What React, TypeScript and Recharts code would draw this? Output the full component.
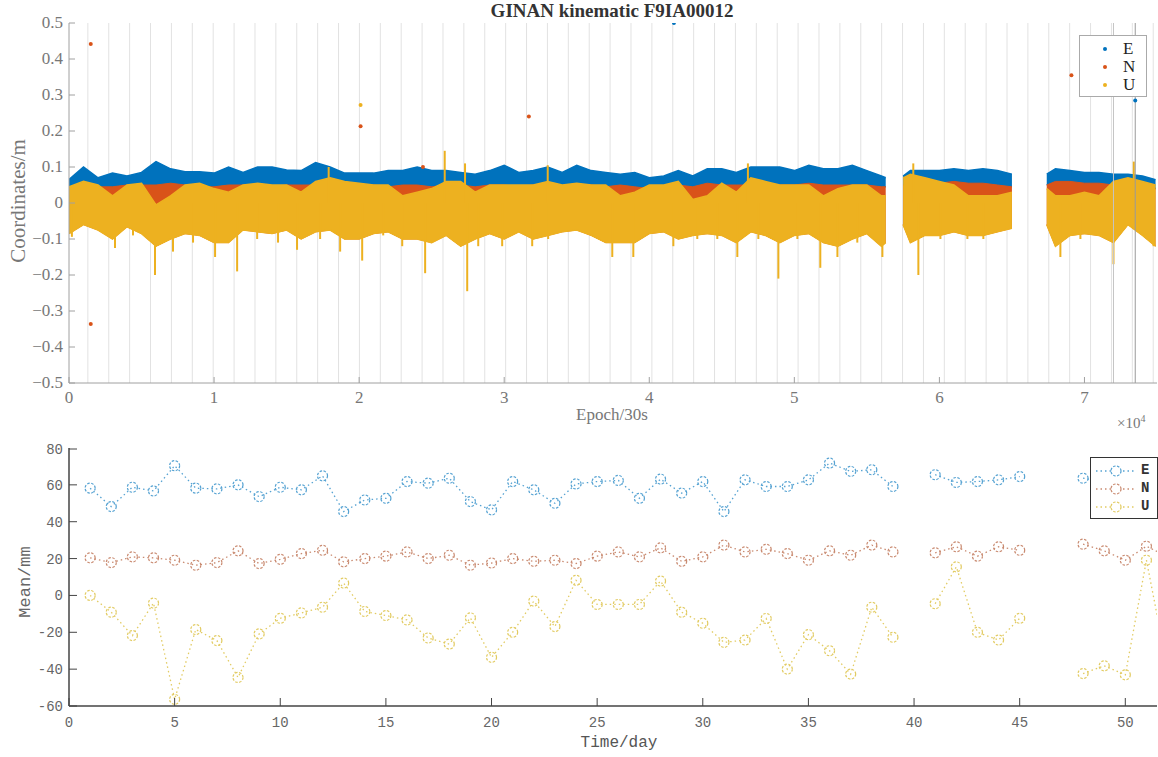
import React from 'react';
import {
  ComposedChart,
  LineChart,
  Line,
  Area,
  Scatter,
  XAxis,
  YAxis,
  CartesianGrid,
  ReferenceLine,
} from 'recharts';

const SERIF = '"Liberation Serif", "Times New Roman", serif';
const MONO = '"Liberation Mono", "DejaVu Sans Mono", monospace';

const C_E = '#0072BD';
const C_N = '#D95319';
const C_U = '#EDB120';

// ---- top panel: kinematic coordinates, read per ~1000 epoch bin (null = data gap)
const epochs = [
  0, 1000, 2000, 3000, 4000, 5000, 6000, 7000, 8000, 9000,
  10000, 11000, 12000, 13000, 14000, 15000, 16000, 17000, 18000, 19000,
  20000, 21000, 22000, 23000, 24000, 25000, 26000, 27000, 28000, 29000,
  30000, 31000, 32000, 33000, 34000, 35000, 36000, 37000, 38000, 39000,
  40000, 41000, 42000, 43000, 44000, 45000, 46000, 47000, 48000, 49000,
  50000, 51000, 52000, 53000, 54000, 55000, 56000, 56300, 57000, 57500,
  58000, 59000, 60000, 61000, 62000, 63000, 64000, 65000, 66000, 67400,
  68000, 69000, 70000, 71000, 72000, 73000, 74000, 74900,
];
const eTop = [
  0.065, 0.1, 0.07, 0.083, 0.075, 0.085, 0.115, 0.095, 0.087, 0.087,
  0.083, 0.1, 0.085, 0.1, 0.1, 0.092, 0.09, 0.112, 0.1, 0.083,
  0.083, 0.083, 0.09, 0.09, 0.1, 0.09, 0.09, 0.085, 0.08, 0.09,
  0.105, 0.085, 0.09, 0.1, 0.085, 0.105, 0.09, 0.085, 0.08, 0.085,
  0.07, 0.075, 0.09, 0.075, 0.095, 0.095, 0.085, 0.1, 0.1, 0.1,
  0.09, 0.105, 0.095, 0.095, 0.105, 0.09, 0.075, 0.07, null, 0.075,
  0.09, 0.09, 0.09, 0.095, 0.09, 0.095, 0.09, 0.08, null, 0.08,
  0.095, 0.09, 0.085, 0.085, 0.08, 0.08, 0.075, 0.065,
];
const nTop = [
  0.04, 0.05, 0.045, 0.045, 0.05, 0.05, 0.05, 0.055, 0.05, 0.045,
  0.045, 0.05, 0.05, 0.05, 0.045, 0.05, 0.05, 0.05, 0.055, 0.045,
  0.05, 0.05, 0.045, 0.05, 0.05, 0.045, 0.05, 0.05, 0.045, 0.05,
  0.05, 0.045, 0.05, 0.05, 0.045, 0.05, 0.05, 0.045, 0.05, 0.045,
  0.04, 0.045, 0.05, 0.045, 0.055, 0.05, 0.05, 0.05, 0.05, 0.05,
  0.05, 0.055, 0.05, 0.05, 0.05, 0.05, 0.045, 0.045, null, 0.05,
  0.05, 0.05, 0.055, 0.06, 0.055, 0.055, 0.05, 0.045, null, 0.05,
  0.06, 0.06, 0.055, 0.055, 0.05, 0.05, 0.045, 0.04,
];
const uTop = [
  0.045, 0.06, 0.05, 0.02, 0.05, 0.055, -0.005, 0.02, 0.05, 0.055,
  0.04, 0.03, 0.05, 0.055, 0.05, 0.05, 0.03, 0.06, 0.07, 0.06,
  0.055, 0.05, 0.05, 0.02, 0.03, 0.04, 0.06, 0.06, 0.03, 0.05,
  0.05, 0.05, 0.05, 0.06, 0.05, 0.055, 0.05, 0.05, 0.02, 0.03,
  0.05, 0.05, 0.06, 0.01, 0.02, 0.055, 0.03, 0.07, 0.06, 0.05,
  0.05, 0.05, 0.02, 0.04, 0.05, 0.05, 0.02, 0.02, null, 0.07,
  0.08, 0.07, 0.06, 0.05, 0.02, 0.02, 0.02, 0.03, null, 0.04,
  0.02, 0.02, 0.03, 0.02, 0.06, 0.07, 0.06, 0.05,
];
const uBottom = [
  -0.085, -0.06, -0.075, -0.1, -0.066, -0.085, -0.12, -0.1, -0.085, -0.09,
  -0.11, -0.11, -0.075, -0.08, -0.085, -0.075, -0.1, -0.08, -0.075, -0.1,
  -0.1, -0.085, -0.08, -0.1, -0.1, -0.11, -0.09, -0.12, -0.1, -0.085,
  -0.1, -0.08, -0.1, -0.09, -0.08, -0.075, -0.09, -0.11, -0.11, -0.11,
  -0.085, -0.08, -0.1, -0.09, -0.085, -0.09, -0.11, -0.08, -0.09, -0.11,
  -0.09, -0.085, -0.11, -0.12, -0.1, -0.085, -0.12, -0.11, null, -0.06,
  -0.11, -0.09, -0.09, -0.08, -0.09, -0.09, -0.08, -0.07, null, -0.06,
  -0.12, -0.09, -0.085, -0.09, -0.11, -0.06, -0.09, -0.12,
];

// narrow U streaks reaching beyond the band (low, high)
const spikeEpochs = [
  200, 3170, 4410, 5930, 7170, 8550, 10070, 11590, 12970, 14410, 15720, 17310, 17900, 18690, 20210, 21660,
  22970, 24550, 25900, 27300, 27450, 28210, 29860, 31930, 33000, 33030, 37450, 38900, 41660, 43310, 44690,
  46070, 46800, 47520, 48900, 50210, 51790, 52970, 54340, 56070, 58200, 58550, 60070, 61930, 63030, 68340,
  69720, 72000, 73400, 74760,
];
const spikeLow = [
  -0.094, -0.125, -0.09, -0.2, -0.135, -0.11, -0.15, -0.19, -0.1, -0.11, -0.13, -0.1, 0, -0.135, -0.16, -0.09,
  -0.12, -0.195, 0, 0, -0.245, -0.12, -0.12, -0.12, 0, -0.1, -0.15, -0.15, -0.12, -0.1, -0.1,
  -0.15, 0, -0.1, -0.21, -0.1, -0.18, -0.15, -0.11, -0.15, 0, -0.2, -0.1, -0.1, -0.1, -0.15,
  -0.1, -0.17, 0, -0.12,
];
const spikeHigh = [
  0, 0, 0, 0, 0, 0, 0, 0, 0, 0, 0, 0, 0.1, 0, 0, 0,
  0, 0, 0.145, 0.11, 0, 0, 0, 0, 0.105, 0, 0, 0, 0, 0, 0,
  0, 0.11, 0, 0, 0, 0, 0, 0, 0, 0.11, 0, 0, 0, 0, 0,
  0, 0, 0.115, 0,
];

// isolated outliers
const outEEpochs = [41700, 73500];
const outEValues = [0.5, 0.285];
const outNEpochs = [1500, 1500, 20100, 24400, 31700, 69100];
const outNValues = [0.442, -0.336, 0.213, 0.1, 0.24, 0.355];
const outUEpochs = [20100];
const outUValues = [0.272];

const topXTicks = [0, 10000, 20000, 30000, 40000, 50000, 60000, 70000];
const topYTicks = [-0.5, -0.4, -0.3, -0.2, -0.1, 0, 0.1, 0.2, 0.3, 0.4, 0.5];
const gridEpochs = Array.from({ length: 52 }, (_, i) => 1300 + i * 1440);

// ---- bottom panel: daily means (mm)
const days = [
  1, 2, 3, 4, 5, 6, 7, 8, 9, 10, 11, 12, 13, 14, 15, 16, 17, 18, 19, 20, 21, 22, 23, 24, 25, 26,
  27, 28, 29, 30, 31, 32, 33, 34, 35, 36, 37, 38, 39, 40, 41, 42, 43, 44, 45, 46, 47, 48, 49, 50, 51, 52,
];
const meanE = [
  58.2, 48.2, 58.7, 56.7, 70.4, 58.2, 57.8, 60, 53.6, 58.7, 57.3, 64.9, 45.5, 51.8, 52.7, 61.8, 60.9, 63.6, 50.9, 46.4,
  61.8, 57.3, 50, 60.5, 61.8, 62.4, 52.7, 63.1, 55.5, 61.8, 45.5, 62.7, 59.1, 59.1, 62.7, 71.8, 67.3, 68.2, 59.1, null,
  65.5, 61.3, 61.8, 62.7, 64.5, null, null, 63.6, 62, 63, 61, 62,
];
const meanN = [
  20.4, 17.8, 20.9, 20.4, 19.1, 16.4, 17.8, 24.2, 17.3, 19.6, 22.7, 24.5, 18.2, 20, 21.3, 23.6, 20, 21.8, 16.4, 17.6,
  20, 18.5, 19.1, 17.3, 21.3, 23.6, 20.9, 25.8, 18.5, 20.9, 27.3, 23.6, 25, 22.7, 19.1, 24.2, 21.8, 27.3, 23.6, null,
  23.1, 26.4, 21.3, 26.4, 24.5, null, null, 27.8, 24.2, 19.1, 26.7, 21,
];
const meanU = [
  0, -9.1, -21.8, -4.2, -56.4, -18.5, -24.5, -44.5, -20.9, -12.4, -9.5, -6.4, 6.7, -8.7, -10.9, -13.3, -23.1, -26.4, -12.2, -33.6,
  -20, -3.1, -16.9, 8.2, -4.9, -4.9, -4.9, 7.8, -9.1, -15.1, -25.5, -24.2, -12.5, -40, -21.3, -30, -42.7, -6.4, -22.7, null,
  -4.5, 15.5, -20, -24.2, -12.4, null, null, -42.4, -38.2, -43.1, 19.1, -40,
];
const botXTicks = [0, 5, 10, 15, 20, 25, 30, 35, 40, 45, 50];
const botYTicks = [-60, -40, -20, 0, 20, 40, 60, 80];

const L_E = '#55a2d2';
const L_N = '#c98a70';
const L_U = '#e2cb62';

const fmtTop = (v: number) => {
  if (Math.abs(v) < 1e-9) return '0';
  return (v < 0 ? '\u2212' : '') + Math.abs(v).toFixed(1);
};

type TickOpts = { len: number; stroke: string; font?: string; size?: number; fill?: string; fmt?: (v: number) => string; dx?: number; dy?: number };

const bottomTick = (o: TickOpts) => (p: any) => (
  <g>
    <line x1={p.x} x2={p.x} y1={p.y} y2={p.y - o.len} stroke={o.stroke} />
    {o.fmt && (
      <text x={p.x} y={p.y + (o.dy || 0)} textAnchor="middle" fontFamily={o.font} fontSize={o.size} fill={o.fill}>
        {o.fmt(p.payload.value)}
      </text>
    )}
  </g>
);
const leftTick = (o: TickOpts) => (p: any) => (
  <g>
    <line x1={p.x} x2={p.x + o.len} y1={p.y} y2={p.y} stroke={o.stroke} />
    {o.fmt && (
      <text x={p.x - (o.dx || 0)} y={p.y + 5} textAnchor="end" fontFamily={o.font} fontSize={o.size} fill={o.fill}>
        {o.fmt(p.payload.value)}
      </text>
    )}
  </g>
);
const topTick = (o: TickOpts) => (p: any) => (
  <line x1={p.x} x2={p.x} y1={p.y} y2={p.y + o.len} stroke={o.stroke} />
);
const rightTick = (o: TickOpts) => (p: any) => (
  <line x1={p.x} x2={p.x - o.len} y1={p.y} y2={p.y} stroke={o.stroke} />
);

const Dot = ({ cx, cy, fill }: any) =>
  cx == null || cy == null ? null : <circle cx={cx} cy={cy} r={2} fill={fill} />;

// map epochs through the x axis scale, whatever shape the scale object has
const gridGen = ({ xAxis }: any) => {
  const s = xAxis && xAxis.scale;
  if (!s) return [];
  const f = typeof s === 'function' ? s : typeof s.map === 'function' ? (v: number) => s.map(v) : null;
  if (!f) return [];
  return gridEpochs.map((e) => f(e)).filter((v) => typeof v === 'number' && isFinite(v));
};

export default function App() {
  const topData = epochs.map((epoch, i) => ({
    epoch,
    e: eTop[i] == null ? null : [nTop[i], eTop[i]],
    n: nTop[i] == null ? null : [uBottom[i], nTop[i]],
    u: uTop[i] == null ? null : [uBottom[i], uTop[i]],
  }));
  const outE = outEEpochs.map((epoch, i) => ({ epoch, value: outEValues[i] }));
  const outN = outNEpochs.map((epoch, i) => ({ epoch, value: outNValues[i] }));
  const outU = outUEpochs.map((epoch, i) => ({ epoch, value: outUValues[i] }));
  const botData = days.map((day, i) => ({ day, E: meanE[i], N: meanN[i], U: meanU[i] }));

  const topFrame = '#a0a0a0';
  const botFrame = '#444';

  return (
    <div style={{ position: 'absolute', left: 0, top: 0, width: 1158, height: 757, background: '#fff', overflow: 'hidden' }}>
      {/* top panel */}
      <div style={{ position: 'absolute', left: 0, top: 0 }}>
        <ComposedChart width={1158} height={440} data={topData} margin={{ top: 23, right: 1, bottom: 0, left: 0 }}>
          <CartesianGrid horizontal={false} stroke="#e2e2e2" verticalCoordinatesGenerator={gridGen} />
          <XAxis
            dataKey="epoch"
            type="number"
            domain={[0, 75000]}
            allowDataOverflow
            ticks={topXTicks}
            height={57}
            stroke={topFrame}
            tickSize={0}
            tickMargin={0}
            tickLine={false}
            tick={bottomTick({ len: 6, stroke: topFrame, font: SERIF, size: 17, fill: '#777', dy: 20, fmt: (v) => String(v / 10000) })}
          />
          <XAxis
            xAxisId="top"
            orientation="top"
            type="number"
            domain={[0, 75000]}
            allowDataOverflow
            ticks={topXTicks}
            height={0}
            stroke={topFrame}
            tickSize={0}
            tickMargin={0}
            tickLine={false}
            tick={topTick({ len: 6, stroke: topFrame })}
          />
          <YAxis
            type="number"
            domain={[-0.5, 0.5]}
            allowDataOverflow
            ticks={topYTicks}
            width={69}
            stroke={topFrame}
            tickSize={0}
            tickMargin={0}
            tickLine={false}
            tick={leftTick({ len: 6, stroke: topFrame, font: SERIF, size: 17, fill: '#777', dx: 6, fmt: fmtTop })}
          />
          <YAxis
            yAxisId="r"
            orientation="right"
            type="number"
            domain={[-0.5, 0.5]}
            allowDataOverflow
            ticks={topYTicks}
            width={0}
            stroke={topFrame}
            tickSize={0}
            tickMargin={0}
            tickLine={false}
            tick={rightTick({ len: 6, stroke: topFrame })}
          />
          <Area dataKey="e" type="linear" stroke={C_E} strokeWidth={1.5} fill={C_E} fillOpacity={1} isAnimationActive={false} dot={false} activeDot={false} />
          <Area dataKey="n" type="linear" stroke={C_N} strokeWidth={1} fill={C_N} fillOpacity={1} isAnimationActive={false} dot={false} activeDot={false} />
          <Area dataKey="u" type="linear" stroke={C_U} strokeWidth={1.5} fill={C_U} fillOpacity={1} isAnimationActive={false} dot={false} activeDot={false} />
          {spikeEpochs.map((ep, i) => (
            <ReferenceLine
              key={'s' + i}
              segment={[{ x: ep, y: spikeLow[i] }, { x: ep, y: spikeHigh[i] }]}
              stroke={C_U}
              strokeWidth={2}
            />
          ))}
          <ReferenceLine x={72000} stroke="#c4c4c4" />
          <ReferenceLine x={73500} stroke="#9a9a9a" />
          <Scatter data={outE} dataKey="value" fill={C_E} shape={<Dot fill={C_E} />} isAnimationActive={false} />
          <Scatter data={outN} dataKey="value" fill={C_N} shape={<Dot fill={C_N} />} isAnimationActive={false} />
          <Scatter data={outU} dataKey="value" fill={C_U} shape={<Dot fill={C_U} />} isAnimationActive={false} />
        </ComposedChart>
      </div>

      {/* top panel texts */}
      <div style={{ position: 'absolute', left: 412, width: 400, top: 0, textAlign: 'center', fontFamily: SERIF, fontWeight: 'bold', fontSize: 19, color: '#333' }}>
        GINAN kinematic F9IA00012
      </div>
      <div style={{ position: 'absolute', left: 18, top: 201, transform: 'translate(-50%, -50%) rotate(-90deg)', whiteSpace: 'nowrap', fontFamily: SERIF, fontSize: 21, color: '#777' }}>
        Coordinates/m
      </div>
      <div style={{ position: 'absolute', left: 512, width: 200, top: 405, textAlign: 'center', fontFamily: SERIF, fontSize: 17, color: '#777' }}>
        Epoch/30s
      </div>
      <div style={{ position: 'absolute', left: 1117, top: 413, fontFamily: SERIF, fontSize: 15, color: '#777' }}>
        ×10<sup style={{ fontSize: 10 }}>4</sup>
      </div>
      <div style={{ position: 'absolute', left: 1079, top: 35, width: 66, height: 60, border: '1px solid #aaa', background: '#fff', fontFamily: SERIF, fontSize: 17, color: '#222' }}>
        {[['E', C_E], ['N', C_N], ['U', C_U]].map(([k, c], i) => (
          <div key={k} style={{ position: 'absolute', left: 0, top: 3 + i * 18, width: 66, height: 18 }}>
            <span style={{ position: 'absolute', left: 23, top: 8, width: 4, height: 4, borderRadius: 2, background: c }} />
            <span style={{ position: 'absolute', left: 43, top: 0 }}>{k}</span>
          </div>
        ))}
      </div>

      {/* bottom panel */}
      <div style={{ position: 'absolute', left: 0, top: 440 }}>
        <LineChart width={1158} height={317} data={botData} margin={{ top: 8, right: 1, bottom: 0, left: 0 }}>
          <XAxis
            dataKey="day"
            type="number"
            domain={[0, 51.5]}
            allowDataOverflow
            ticks={botXTicks}
            height={51}
            stroke={botFrame}
            strokeWidth={1.5}
            tickSize={0}
            tickMargin={0}
            tickLine={false}
            tick={bottomTick({ len: 8, stroke: botFrame, font: MONO, size: 14, fill: '#666', dy: 21, fmt: (v) => String(v) })}
          />
          <XAxis
            xAxisId="top"
            orientation="top"
            type="number"
            domain={[0, 51.5]}
            allowDataOverflow
            ticks={botXTicks}
            height={0}
            stroke={botFrame}
            strokeWidth={1.5}
            tickSize={0}
            tickMargin={0}
            tickLine={false}
            tick={topTick({ len: 8, stroke: botFrame })}
          />
          <YAxis
            type="number"
            domain={[-60, 80]}
            allowDataOverflow
            ticks={botYTicks}
            width={69}
            stroke={botFrame}
            strokeWidth={1.5}
            tickSize={0}
            tickMargin={0}
            tickLine={false}
            tick={leftTick({ len: 8, stroke: botFrame, font: MONO, size: 14, fill: '#666', dx: 6, fmt: (v) => String(v) })}
          />
          <YAxis
            yAxisId="r"
            orientation="right"
            type="number"
            domain={[-60, 80]}
            allowDataOverflow
            ticks={botYTicks}
            width={0}
            stroke={botFrame}
            strokeWidth={1.5}
            tickSize={0}
            tickMargin={0}
            tickLine={false}
            tick={rightTick({ len: 8, stroke: botFrame })}
          />
          {([['E', L_E], ['N', L_N], ['U', L_U]] as const).map(([k, c]) => (
            <Line
              key={k}
              dataKey={k}
              type="linear"
              stroke={c}
              strokeWidth={1.3}
              strokeDasharray="1.5 3"
              dot={{ r: 5, fill: 'none', stroke: c, strokeWidth: 1.2, strokeDasharray: '2.5 1.5' }}
              activeDot={false}
              isAnimationActive={false}
            />
          ))}
        </LineChart>
      </div>

      {/* bottom panel texts */}
      <div style={{ position: 'absolute', left: 25, top: 582, transform: 'translate(-50%, -50%) rotate(-90deg)', whiteSpace: 'nowrap', fontFamily: MONO, fontSize: 17, color: '#666' }}>
        Mean/mm
      </div>
      <div style={{ position: 'absolute', left: 519, width: 200, top: 734, textAlign: 'center', fontFamily: MONO, fontSize: 16, color: '#555' }}>
        Time/day
      </div>
      <div style={{ position: 'absolute', left: 1090, top: 457, width: 66, height: 60, border: '1px solid #333', background: '#fff', fontFamily: MONO, fontSize: 14, fontWeight: 'bold', color: '#333' }}>
        {[['E', L_E], ['N', L_N], ['U', L_U]].map(([k, c], i) => (
          <div key={k} style={{ position: 'absolute', left: 0, top: 4 + i * 18, width: 66, height: 18 }}>
            <svg width={46} height={18} style={{ position: 'absolute', left: 3, top: 0 }}>
              <line x1={2} x2={42} y1={9} y2={9} stroke={c} strokeWidth={1.3} strokeDasharray="1.5 3" />
              <circle cx={22} cy={9} r={5} fill="#fff" stroke={c} strokeWidth={1.2} strokeDasharray="2.5 1.5" />
            </svg>
            <span style={{ position: 'absolute', left: 50, top: 0 }}>{k}</span>
          </div>
        ))}
      </div>
    </div>
  );
}
